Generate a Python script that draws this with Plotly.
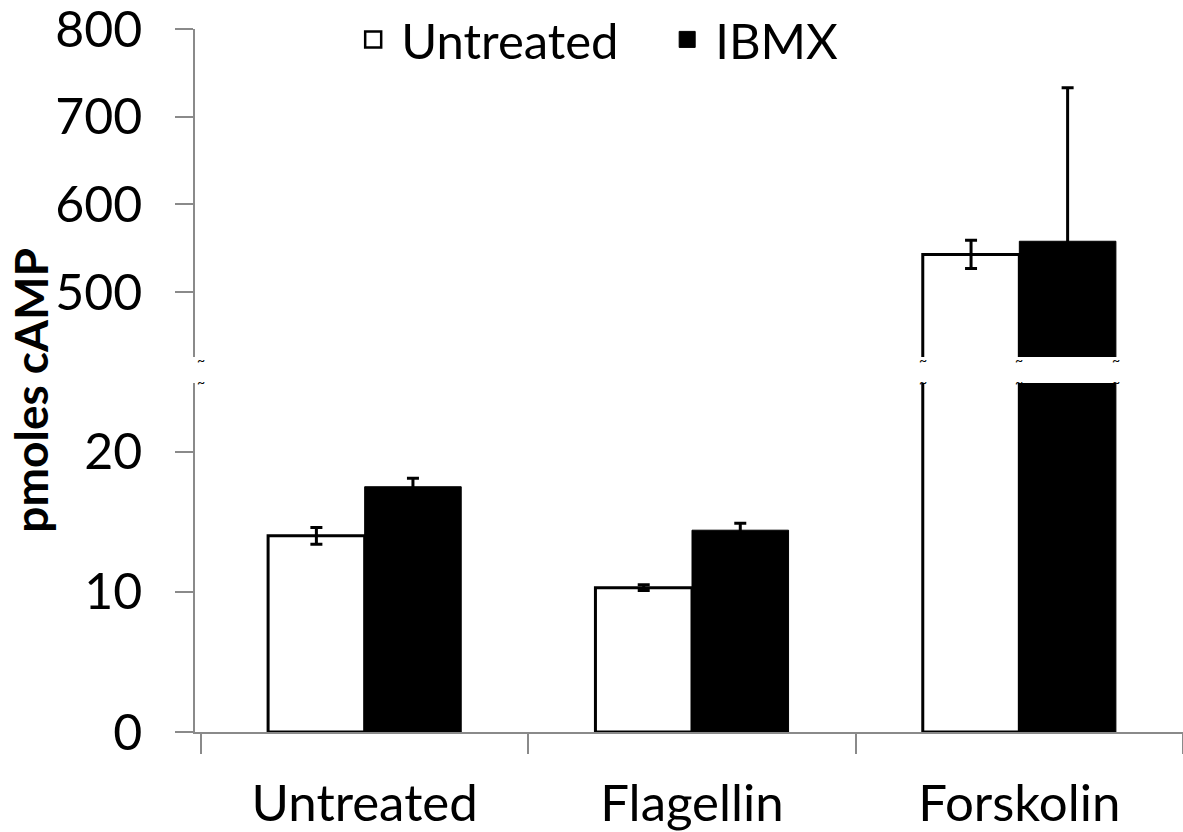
import plotly.graph_objects as go

categories = ["Untreated", "Flagellin", "Forskolin"]
untreated_vals = [14.0, 10.3, 543]
untreated_err = [0.6, 0.2, 16]
ibmx_vals = [17.5, 14.4, 558]
ibmx_err = [0.6, 0.5, 175]
lower_ticks = [0, 10, 20]
upper_ticks = [500, 600, 700, 800]

FONT = "Lato"
AX = "#8a8a8a"
FS = 50

fig = go.Figure()

def add_pair(xa, ya):
    fig.add_trace(go.Bar(
        x=categories, y=untreated_vals, name="Untreated",
        marker=dict(color="white", line=dict(color="black", width=3)),
        error_y=dict(type="data", array=untreated_err, color="black", thickness=3, width=6),
        xaxis=xa, yaxis=ya, showlegend=False))
    fig.add_trace(go.Bar(
        x=categories, y=ibmx_vals, name="IBMX",
        marker=dict(color="black", line=dict(color="black", width=1)),
        error_y=dict(type="data", array=ibmx_err, color="black", thickness=3, width=6),
        xaxis=xa, yaxis=ya, showlegend=False))

add_pair("x", "y")
add_pair("x2", "y2")

# legend entries
fig.add_trace(go.Scatter(x=[None], y=[None], mode="markers", name="Untreated",
                         marker=dict(symbol="square", size=20, color="white",
                                     line=dict(color="black", width=2.5))))
fig.add_trace(go.Scatter(x=[None], y=[None], mode="markers", name="IBMX",
                         marker=dict(symbol="square", size=20, color="black",
                                     line=dict(color="black", width=1))))

fig.update_layout(
    width=1183, height=832,
    margin=dict(l=195, r=0, t=29, b=100, autoexpand=False),
    plot_bgcolor="white", paper_bgcolor="white",
    barmode="group", bargap=0.41, bargroupgap=0,
    font=dict(family=FONT, size=FS, color="black"),
    legend=dict(orientation="h", x=0.152, y=0.985, xanchor="left", yanchor="middle",
                font=dict(size=49), bgcolor="rgba(0,0,0,0)", itemwidth=46,
                entrywidth=253, entrywidthmode="pixels",
                traceorder="normal", itemsizing="trace"),
    xaxis=dict(domain=[0, 1], anchor="y", showline=True, linecolor=AX, linewidth=1.5,
               ticks="outside", tickson="boundaries", ticklen=20, tickcolor=AX,
               tickwidth=1.5, ticklabelstandoff=26, showgrid=False,
               ticklabeloverflow="allow", tickfont=dict(size=51)),
    xaxis2=dict(domain=[0, 1], anchor="y2", matches="x", visible=False),
    yaxis=dict(domain=[0, 0.4964], range=[0, 24.9], tickvals=lower_ticks,
               showline=True, linecolor=AX, linewidth=1.5, ticks="outside",
               ticklen=18, tickcolor=AX, tickwidth=1.5, showgrid=False,
               zeroline=False, ticklabelstandoff=23, ticklabeloverflow="allow",
               tickfont=dict(size=FS)),
    yaxis2=dict(domain=[0.5334, 1], range=[426, 800], tickvals=upper_ticks,
                showline=True, linecolor=AX, linewidth=1.5, ticks="outside",
                ticklen=18, tickcolor=AX, tickwidth=1.5, showgrid=False,
                zeroline=False, ticklabelstandoff=23, ticklabeloverflow="allow",
                tickfont=dict(size=FS)),
)

# y-axis title
fig.add_annotation(text="<b>pmoles cAMP</b>", xref="paper", yref="paper",
                   x=-0.166, y=0.487, xanchor="center", yanchor="middle",
                   textangle=-90, showarrow=False,
                   font=dict(family=FONT, size=46, color="black"))

# break marks on the axis and Forskolin bars
bar_w = (1 - 0.41) / 2
edge_xs = [-0.5, 2 - bar_w, 2, 2 + bar_w]
for ex in edge_xs:
    fig.add_annotation(text="~", x=ex, y=426, xref="x2", yref="y2", showarrow=False,
                       font=dict(size=14, color="black"), yshift=-2)
    fig.add_annotation(text="~", x=ex, y=24.9, xref="x", yref="y", showarrow=False,
                       font=dict(size=14, color="black"), yshift=2)

fig.write_html("out.html")
